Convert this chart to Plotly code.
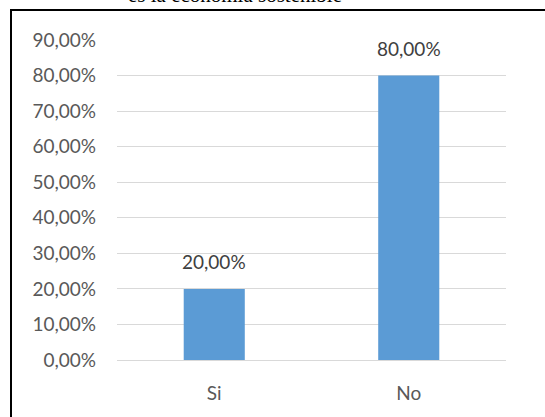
import plotly.graph_objects as go

categories = ["Si", "No"]
values = [0.20, 0.80]
tick_vals = [0, 0.1, 0.2, 0.3, 0.4, 0.5, 0.6, 0.7, 0.8, 0.9]
title_text = "es la economía sostenible"

W, H = 545, 417
ml, mr, mt, mb = 117, 39, 40, 57
pw, ph = W - ml - mr, H - mt - mb

def px_x(x):
    return (x - ml) / pw

def px_y(y):
    return (H - mb - y) / ph

text_color = "#595959"
font_fam = "Lato, Carlito, Calibri, sans-serif"

fig = go.Figure()
fig.add_trace(go.Bar(
    x=categories, y=values,
    marker=dict(color="#5B9BD5", line=dict(width=0)),
    width=0.314,
    hoverinfo="skip",
))

for c, v in zip(categories, values):
    fig.add_annotation(
        x=c, y=v, xref="x", yref="y",
        text=f"{v*100:.2f}%".replace(".", ","),
        showarrow=False, yanchor="bottom", yshift=14,
        font=dict(family=font_fam, size=19, color="#404040"),
    )

fig.add_annotation(
    x=px_x(235), y=px_y(9), xref="paper", yref="paper",
    text=title_text, showarrow=False, xanchor="center", yanchor="bottom",
    font=dict(family="Liberation Serif, Times New Roman, serif", size=21, color="#000000"),
)

fig.add_shape(
    type="rect", xref="paper", yref="paper",
    x0=px_x(11), x1=px_x(550), y0=px_y(422), y1=px_y(10),
    line=dict(color="#000000", width=2), fillcolor="rgba(0,0,0,0)",
    layer="above",
)

fig.update_layout(
    width=W, height=H,
    margin=dict(l=ml, r=mr, t=mt, b=mb, pad=0),
    paper_bgcolor="white", plot_bgcolor="white",
    showlegend=False,
    separators=",.",
    bargap=0.5,
    xaxis=dict(
        showgrid=False, showline=False, zeroline=False, ticks="",
        tickfont=dict(family=font_fam, size=19, color=text_color),
        ticklabelstandoff=20,
    ),
    yaxis=dict(
        range=[0, 0.9], tickvals=tick_vals, tickformat=".2%",
        showgrid=True, gridcolor="#D9D9D9", gridwidth=1.3,
        zeroline=True, zerolinecolor="#D9D9D9", zerolinewidth=1.3,
        showline=False, ticks="",
        tickfont=dict(family=font_fam, size=19, color=text_color),
        ticklabelstandoff=20,
    ),
)

fig.write_html(
    "out.html",
    config={"displayModeBar": False},
    post_script="document.body.style.margin='0';document.body.style.padding='0';document.body.style.overflow='hidden';",
)
